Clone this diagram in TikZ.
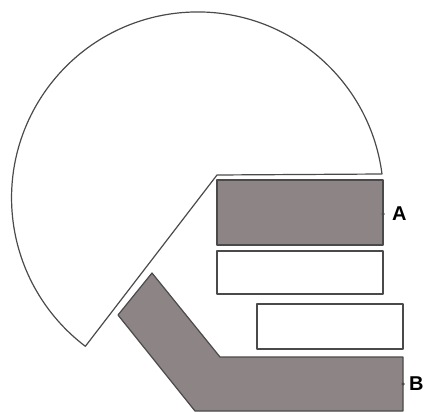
\documentclass[tikz,border=0pt]{standalone}
\usepackage{fontspec}
\setsansfont{Liberation Sans}
\usepackage{tikz}
\usetikzlibrary{
  positioning,
}
\definecolor{platedark}{HTML}{8C8485}
\definecolor{edgegray}{HTML}{4A4A4A}

\begin{document}
\begin{tikzpicture}[
    x=1pt, y=-1pt,
    outline/.style={draw=edgegray, line width=1.2pt, line join=round},
    plate/.style={outline, fill=platedark},
    slot/.style={outline, fill=white},
    pin/.style={circle, fill=edgegray, inner sep=0pt, minimum size=3.5pt},
    lbl/.style={font=\sffamily\bfseries\fontsize{20}{24}\selectfont, inner sep=0pt},
  ]
  \useasboundingbox (0,0) rectangle (424,412);

  % head outline
  \draw[outline, fill=white] (382,174)
    arc[start angle=-7.4, end angle=-232.9, radius=186]
    -- (217,175) -- cycle;

  % plates
  \draw[plate] (217,180) rectangle (383,245);
  \draw[slot] (217,251) rectangle (383,294);
  \draw[slot] (257,304) rectangle (403,349);
  \draw[plate] (152,273) -- (220,357) -- (403,357) -- (403,411)
    -- (195,411) -- (118,315) -- cycle;

  % labels
  \node[pin] (pinA) at (383,214) {};
  \node[pin] (pinB) at (403,384) {};
  \node[lbl, right=7pt of pinA] (labA) {A};
  \node[lbl, right=4pt of pinB] (labB) {B};
\end{tikzpicture}
\end{document}
